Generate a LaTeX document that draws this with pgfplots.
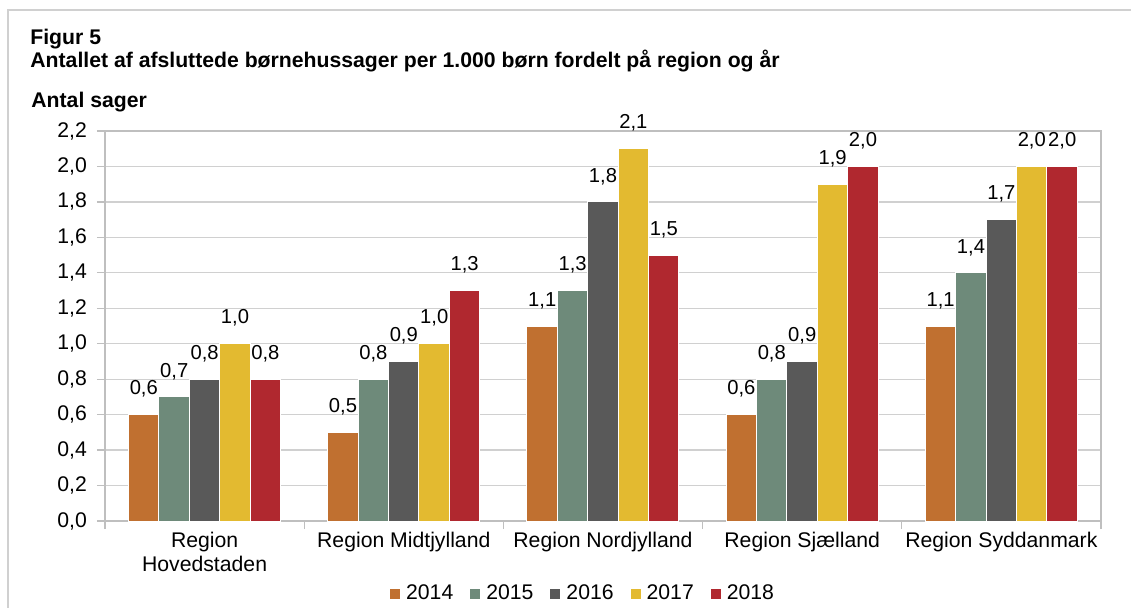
\documentclass[border=0pt]{standalone}
\usepackage{pgfplots}
\pgfplotsset{compat=1.18}
\usepackage{fontspec}
\setmainfont{Liberation Sans}
\definecolor{c14}{HTML}{C07030}
\definecolor{c15}{HTML}{6E8A7A}
\definecolor{c16}{HTML}{595959}
\definecolor{c17}{HTML}{E3BA30}
\definecolor{c18}{HTML}{B0282F}
\definecolor{gridc}{HTML}{D0D0D0}
\definecolor{axc}{HTML}{BFBFBF}
\newcommand{\ff}{\fontsize{10.6pt}{12pt}\selectfont}
\newcommand{\fd}{\fontsize{10.1pt}{12pt}\selectfont}
\begin{document}
\begin{tikzpicture}[font=\ff]
\useasboundingbox (0,0) rectangle (565.5pt,303.5pt);
\draw[gridc,line width=0.6pt] (4pt,-5pt) -- (4pt,298.5pt) -- (580pt,298.5pt);
\node[anchor=base west,inner sep=0pt,font=\ff\bfseries] at (15pt,281.5pt) {Figur 5};
\node[anchor=base west,inner sep=0pt,font=\ff\bfseries] at (15pt,269.5pt) {Antallet af afsluttede børnehussager per 1.000 børn fordelt på region og år};
\node[anchor=base west,inner sep=0pt,font=\ff\bfseries] at (15.5pt,250pt) {Antal sager};
\begin{axis}[
  at={(52.5pt,43pt)}, anchor=south west,
  scale only axis, width=498pt, height=195pt,
  ybar=0pt, bar width=15.2pt,
  xmin=-0.5, xmax=4.5, ymin=0, ymax=2.2,
  ytick={0,0.2,...,2.21},
  yticklabel={\pgfmathprintnumber[fixed,fixed zerofill,precision=1,use comma,assume math mode=true]{\tick}},
  yticklabel style={xshift=-1.5pt},
  ymajorgrids, grid style={gridc, line width=0.6pt},
  axis line style={axc, line width=0.6pt},
  tick style={axc, line width=0.6pt},
  tick align=outside, major tick length=4pt,
  tick label style={font=\ff},
  xtick={-0.5,0.5,1.5,2.5,3.5,4.5}, xticklabels={},
  extra x ticks={0,1,2,3,4},
  extra x tick labels={{Region\\Hovedstaden},{Region Midtjylland},{Region Nordjylland},{Region Sjælland},{Region Syddanmark}},
  extra x tick style={major tick length=0pt, grid=none, tick style={draw=none}},
  xticklabel style={align=center, yshift=-2pt},
  ytick pos=left, xtick pos=bottom,
  every axis plot/.append style={draw=white, line width=0.5pt},
  nodes near coords={\pgfmathprintnumber[fixed,fixed zerofill,precision=1,use comma,assume math mode=true]{\pgfplotspointmeta}},
  every node near coord/.append style={font=\fd, text=black, yshift=5pt},
  legend columns=5,
  legend style={draw=none, at={(0.481,-0.186)}, anchor=center, font=\ff,
    /tikz/every odd column/.append style={column sep=1pt},
    /tikz/every even column/.append style={column sep=6.5pt}},
  legend image code/.code={\fill[#1,draw=none] (0pt,-2.5pt) rectangle (5pt,2.5pt);},
]
\addplot[fill=c14] coordinates {(0,0.6) (1,0.5) (2,1.1) (3,0.6) (4,1.1)};
\addplot[fill=c15] coordinates {(0,0.7) (1,0.8) (2,1.3) (3,0.8) (4,1.4)};
\addplot[fill=c16] coordinates {(0,0.8) (1,0.9) (2,1.8) (3,0.9) (4,1.7)};
\addplot[fill=c17] coordinates {(0,1.0) (1,1.0) (2,2.1) (3,1.9) (4,2.0)};
\addplot[fill=c18] coordinates {(0,0.8) (1,1.3) (2,1.5) (3,2.0) (4,2.0)};
\legend{2014,2015,2016,2017,2018}
\end{axis}
\end{tikzpicture}
\end{document}
